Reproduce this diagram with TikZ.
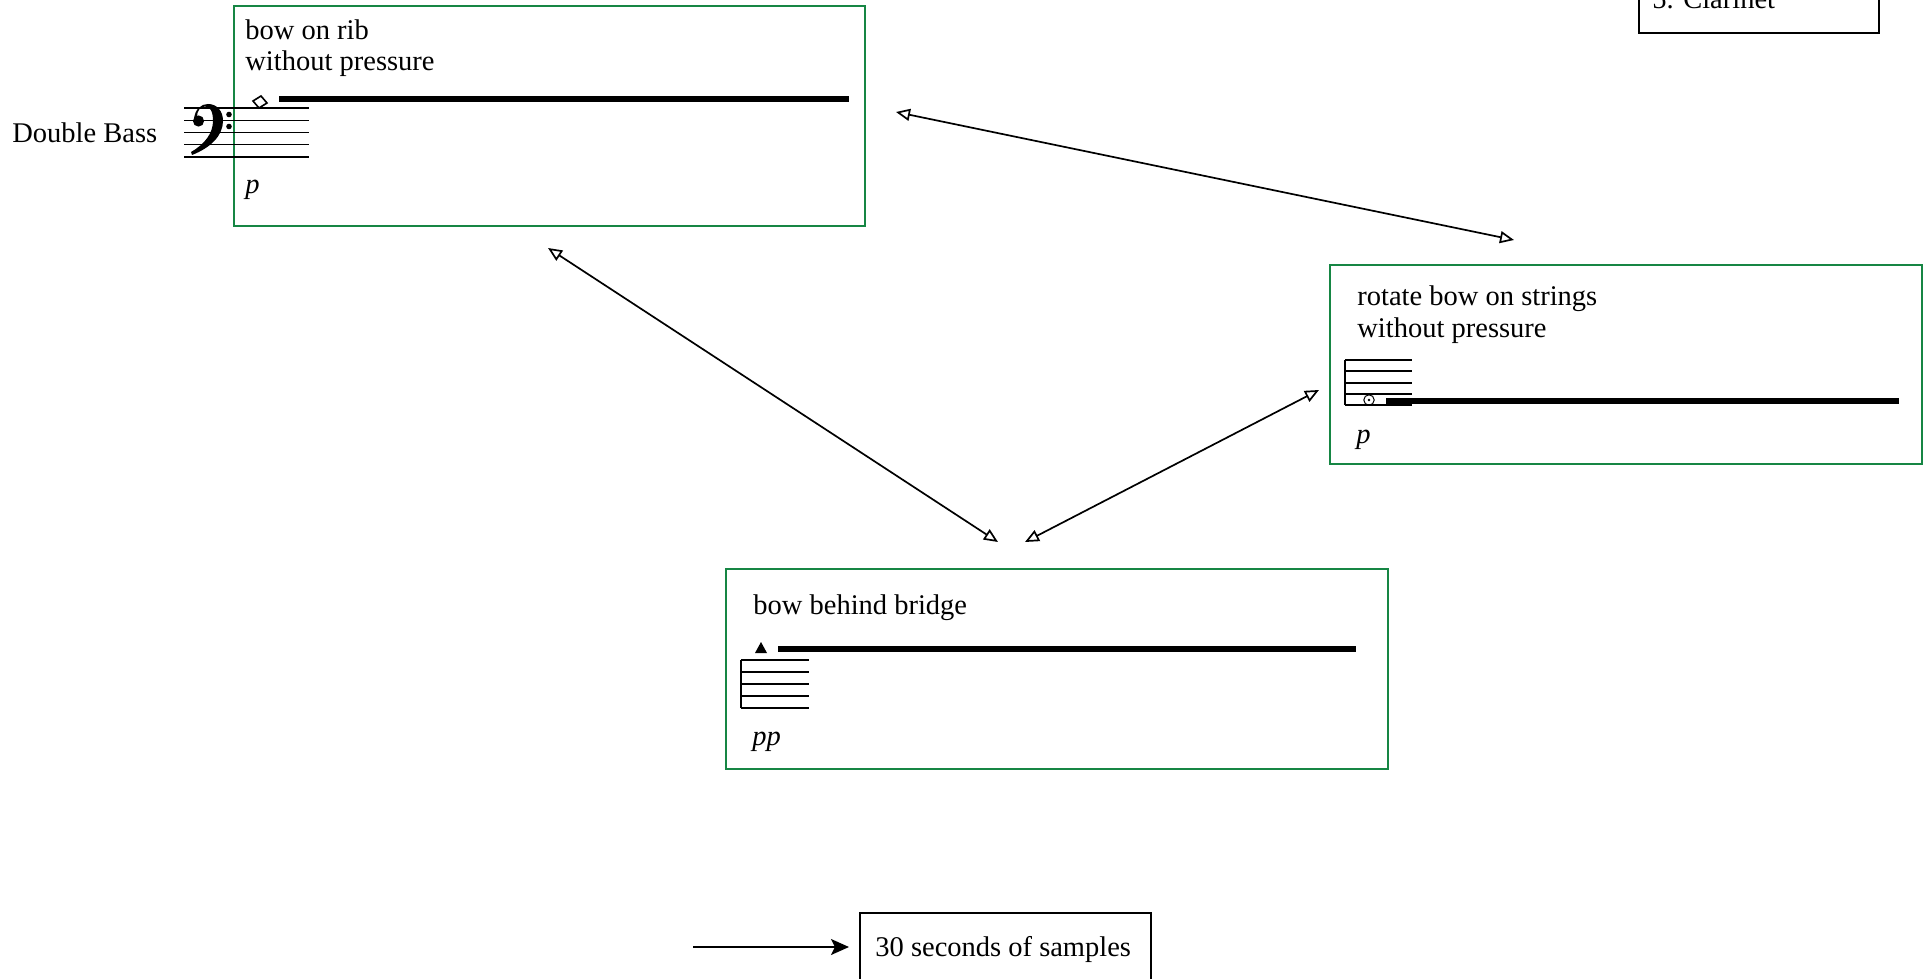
\documentclass[tikz,border=0pt]{standalone}
\usepackage{fontspec}
\setmainfont{Liberation Serif}
\usetikzlibrary{arrows.meta}
\definecolor{boxgreen}{RGB}{22,134,68}
\begin{document}
\begin{tikzpicture}[x=0.5pt,y=-0.5pt,
  font=\fontsize{14.25pt}{15.4pt}\selectfont,
  gbox/.style={draw=boxgreen, line width=1pt, rectangle, inner sep=0pt, outer sep=0pt, anchor=north west},
  kbox/.style={draw=black, line width=0.8pt, rectangle, inner sep=0pt, outer sep=0pt, anchor=north west},
  lbl/.style={inner sep=0pt, anchor=base west},
  dyn/.style={inner sep=0pt, anchor=base west, font=\fontsize{14.25pt}{15.4pt}\selectfont\itshape},
  staffline/.style={line width=0.6pt},
  holdline/.style={line width=2.6pt},
  link/.style={line width=0.85pt, {Triangle[open,length=7pt,width=6pt]}-{Triangle[open,length=7pt,width=6pt]}},
]
\useasboundingbox (0,0) rectangle (1924,979);
\clip (0,0) rectangle (1924,979);

% ---------- boxes ----------
\node[gbox, minimum width=315.5pt, minimum height=110pt] (b1) at (234,6) {};
\node[gbox, minimum width=296pt, minimum height=99.5pt] (b2) at (1330,265) {};
\node[gbox, minimum width=331pt, minimum height=100pt] (b3) at (726,569) {};
\node[kbox, minimum width=120pt, minimum height=46.5pt] (clar) at (1639,-60) {};
\node[kbox, minimum width=145.5pt, minimum height=63.5pt] (samp) at (860,913) {};

% ---------- texts ----------
\node[lbl] (t1a) at (245,40) {bow on rib};
\node[lbl] (t1b) at (245,71) {without pressure};
\node[dyn] (d1) at (245,193) {p};
\node[lbl] (db) at (12,143) {Double Bass};

\node[lbl] (t2a) at (1357,306) {rotate bow on strings};
\node[lbl] (t2b) at (1357,337) {without pressure};
\node[dyn] (d2) at (1356,443) {p};

\node[lbl] (t3) at (753,614) {bow behind bridge};
\node[dyn] (d3) at (752,745) {pp};

\node[lbl] (tc) at (1652,9) {5. Clarinet};
\node[lbl] (ts) at (875,956) {30 seconds of samples};

% ---------- staff 1 (bass clef) ----------
\foreach \y in {108,120.5,132.5,144.5,157} \draw[staffline] (184,\y) -- (309,\y);
\fill (198.5,121) circle (2.8pt);
\fill (194,119) .. controls (195,109) and (201,104) .. (208,104)
      .. controls (217,104) and (223,111) .. (223,121)
      .. controls (223,136) and (210,148) .. (192,155)
      -- (191,152) .. controls (205,144) and (213,133) .. (213,121)
      .. controls (213,111) and (210,106.5) .. (205,106.5)
      .. controls (200,106.5) and (197,111) .. (197,117) -- cycle;
\fill (229,114.5) circle (1.4pt);
\fill (229,126.5) circle (1.4pt);
\draw[line width=0.8pt] (253,101) -- (261,96) -- (267,103) -- (259,108) -- cycle;
\draw[holdline] (279,99) -- (849,99);

% ---------- staff 2 ----------
\foreach \y in {360,371,383,394,405} \draw[staffline] (1345,\y) -- (1412,\y);
\draw[staffline] (1345,360) -- (1345,405);
\draw[line width=0.5pt] (1369,400) circle (2.6pt);
\fill (1369,400) circle (0.7pt);
\draw[holdline] (1386,401) -- (1899,401);

% ---------- staff 3 ----------
\foreach \y in {660,672,684,696,708} \draw[staffline] (741,\y) -- (809,\y);
\draw[staffline] (741,660) -- (741,708);
\fill (755,653) -- (767,653) -- (761,642) -- cycle;
\draw[holdline] (778,649) -- (1356,649);

% ---------- connectors ----------
\coordinate (c1a) at (896,112);
\coordinate (c1b) at (1514,240);
\coordinate (c2a) at (548,248);
\coordinate (c2b) at (998,542);
\coordinate (c3a) at (1319,390);
\coordinate (c3b) at (1025,542);
\draw[link] (c1a) -- (c1b);
\draw[link] (c2a) -- (c2b);
\draw[link] (c3a) -- (c3b);

\coordinate (sa) at (693,947);
\coordinate (se) at ([xshift=-5.5pt]samp.west |- sa);
\draw[line width=0.8pt, -{Stealth[length=9pt,width=8pt,inset=2pt]}] (sa) -- (se);
\end{tikzpicture}
\end{document}
